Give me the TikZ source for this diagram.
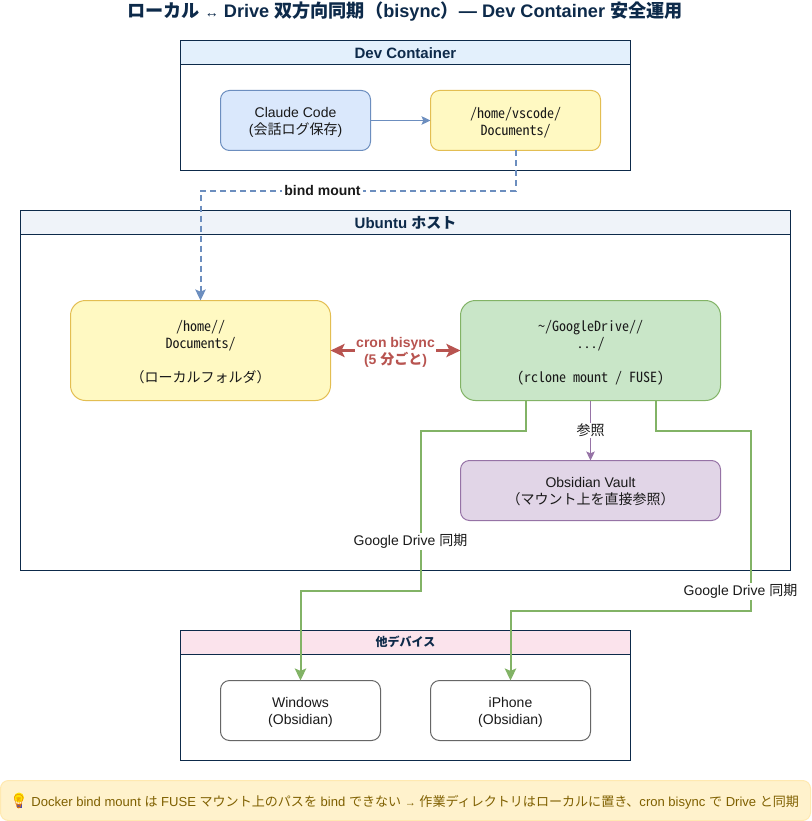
\documentclass[tikz,border=0pt]{standalone}
\usepackage{fontspec}
\usetikzlibrary{arrows.meta,calc}
\setmainfont{Liberation Sans}
\setmonofont{Noto Sans Mono CJK JP}
\newfontfamily\jpf{Noto Sans CJK JP}
\newfontfamily\emojif{Noto Emoji}
\newcommand{\J}[1]{{\jpf #1}}
\newcommand{\JB}[1]{{\jpf\bfseries #1}}
\newcommand{\sanstop}{\rule{0pt}{14pt}}
\newcommand{\monotop}{\rule{0pt}{16pt}}
\newcommand{\boxbot}{\rule[-4pt]{0pt}{4pt}}
\definecolor{navy}{HTML}{0D2A4A}
\definecolor{bluefill}{HTML}{DAE8FC}\definecolor{bluedraw}{HTML}{6C8EBF}
\definecolor{yelfill}{HTML}{FFF9C2}\definecolor{yeldraw}{HTML}{E3BE52}
\definecolor{grnfill}{HTML}{C9E6C8}\definecolor{grndraw}{HTML}{82B366}
\definecolor{purfill}{HTML}{E1D5E7}\definecolor{purdraw}{HTML}{9673A6}
\definecolor{reddraw}{HTML}{B85450}
\definecolor{notefill}{HTML}{FFF2CC}\definecolor{notedraw}{HTML}{FFE9B0}
\definecolor{notetext}{HTML}{7F6000}
\definecolor{devhead}{HTML}{E3F0FC}\definecolor{ubuhead}{HTML}{EFF3F9}\definecolor{othhead}{HTML}{FBE3EC}
\tikzset{
  every node/.style={outer sep=0pt},
  fs/.style={font=\fontsize{#1}{17}\selectfont},
  container/.style={draw=navy,line width=1pt,fill=white,minimum width=#1,anchor=north west,inner sep=0pt},
  header/.style={draw=navy,line width=1pt,anchor=north west,inner sep=0pt,minimum height=24pt,text=navy,align=center},
  box/.style={rounded corners=9pt,line width=1pt,anchor=north west,inner sep=0pt,align=center,text=black!90,fs=14},
  bigbox/.style={box,rounded corners=15pt,minimum width=260pt,minimum height=100pt},
  monotext/.style={font=\fontsize{14}{17}\selectfont\ttfamily},
  elabel/.style={fill=white,inner sep=1pt,align=center,fs=14,text=black!90},
  tip/.style={-{Stealth[length=#1,width=#1*0.95,inset=#1*0.2]}},
}
\begin{document}
\begin{tikzpicture}[x=1pt,y=-1pt,line join=miter]
\useasboundingbox (0,0) rectangle (811,821);
\fill[white] (0,0) rectangle (811,821);
\node[text=navy,inner sep=0pt,fs=18.15] (title) at (405,11.5) {\bfseries\JB{ローカル} {\fontsize{14}{14}\selectfont ↔} Drive \JB{双方向同期（}bisync\JB{）}— Dev Container \JB{安全運用}};
% containers
\node[container=450pt,minimum height=130pt] (dev) at (180.5,40.5) {};
\node[header,fill=devhead,minimum width=450pt,fs=15] (devh) at (180.5,40.5) {\rule{0pt}{13pt}\bfseries Dev Container};
\node[container=770pt,minimum height=360pt] (ubu) at (20.5,210.5) {};
\node[header,fill=ubuhead,minimum width=770pt,fs=15] (ubuh) at (20.5,210.5) {\bfseries Ubuntu \JB{ホスト}};
\node[container=450pt,minimum height=130pt] (oth) at (180.5,630.5) {};
\node[header,fill=othhead,minimum width=450pt,fs=12] (othh) at (180.5,630.5) {\JB{他デバイス}\rule[-3pt]{0pt}{3pt}};
% boxes
\node[box,draw=bluedraw,fill=bluefill,minimum width=150pt,minimum height=60pt] (claude) at (220.5,90.5) {\rule{0pt}{16pt}Claude Code\\(\J{会話ログ保存})\boxbot};
\node[box,draw=yeldraw,fill=yelfill,minimum width=170pt,minimum height=60pt,monotext] (vsc) at (430.5,90.5) {\rule{0pt}{18pt}/home/vscode/\\Documents/\boxbot};
\node[bigbox,draw=yeldraw,fill=yelfill,monotext] (local) at (70.5,300.5) {\monotop /home//\\Documents/\\[17pt]（ローカルフォルダ）\boxbot};
\node[bigbox,draw=grndraw,fill=grnfill,monotext] (drive) at (460.5,300.5) {\monotop \textasciitilde/GoogleDrive//\\.../\\[17pt](rclone mount / FUSE)\boxbot};
\node[box,draw=purdraw,fill=purfill,minimum width=260pt,minimum height=60pt] (vault) at (460.5,460.5) {\sanstop Obsidian Vault\\\J{（マウント上を直接参照）}\boxbot};
\node[box,draw=black!60,fill=white,minimum width=160pt,minimum height=60pt] (win) at (220.5,680.5) {\sanstop Windows\\(Obsidian)\boxbot};
\node[box,draw=black!60,fill=white,minimum width=160pt,minimum height=60pt] (iph) at (430.5,680.5) {\sanstop iPhone\\(Obsidian)\boxbot};
% connectors
\draw[bluedraw,line width=1pt,tip=9pt] (claude.east) -- (vsc.west);
\coordinate (lt) at (local.north);
\draw[bluedraw,line width=2pt,dash pattern=on 6pt off 4pt,tip=11pt] (vsc.south) -- (515.5,190.5) -- (200.5,190.5) -- (lt);
\node[elabel,inner xsep=2pt] (bindl) at (322.5,190) {\bfseries bind mount};
\draw[reddraw,line width=3pt,{Stealth[length=14pt,width=13pt,inset=3pt]}-{Stealth[length=14pt,width=13pt,inset=3pt]}] (local.east) -- (drive.west);
\node[fill=white,inner sep=1pt,align=center,text=reddraw,fs=14] (bisl) at (395.5,352) {\bfseries cron bisync\\\bfseries (5 \JB{分ごと})};
\coordinate (d1) at ($(drive.south west)!0.25!(drive.south east)$);
\coordinate (d2) at ($(drive.south west)!0.75!(drive.south east)$);
\draw[purdraw,line width=1pt,tip=9pt] (drive.south -| vault.north) -- (vault.north);
\node[elabel] (refl) at (590.5,430.5) {\J{参照}};
\draw[grndraw,line width=2pt,tip=12pt] (d1) -- (525.5,430.5) -- (420.5,430.5) -- (420.5,590.5) -- (300.5,590.5) -- (win.north);
\draw[grndraw,line width=2pt,tip=12pt] (d2) -- (655.5,430.5) -- (750.5,430.5) -- (750.5,610.5) -- (510.5,610.5) -- (iph.north);
\node[elabel] (gl1) at (410.5,541.5) {Google Drive \J{同期}};
\node[elabel] (gl2) at (740.5,591.5) {Google Drive \J{同期}};
% note
\node[draw=notedraw,fill=notefill,rounded corners=8pt,line width=1pt,minimum width=810pt,minimum height=40pt,inner sep=0pt,anchor=north west] (note) at (0.5,780.5) {};
\fill[yellow!85!orange] (19,797.5) circle (5pt);
\fill[blue!40!gray] (16.5,803.5) rectangle (21.5,807.5);
\node[text=notetext,inner sep=0pt,fs=13.05] (notet) at (404.5,801.5) {{\fontsize{14}{14}\emojif\selectfont\textcolor{orange!90!black}{💡}} Docker bind mount \J{は} FUSE \J{マウント上のパスを} bind \J{できない} {\fontsize{11}{11}\selectfont →} \J{作業ディレクトリはローカルに置き、}cron bisync \J{で} Drive \J{と同期}};
\end{tikzpicture}
\end{document}
